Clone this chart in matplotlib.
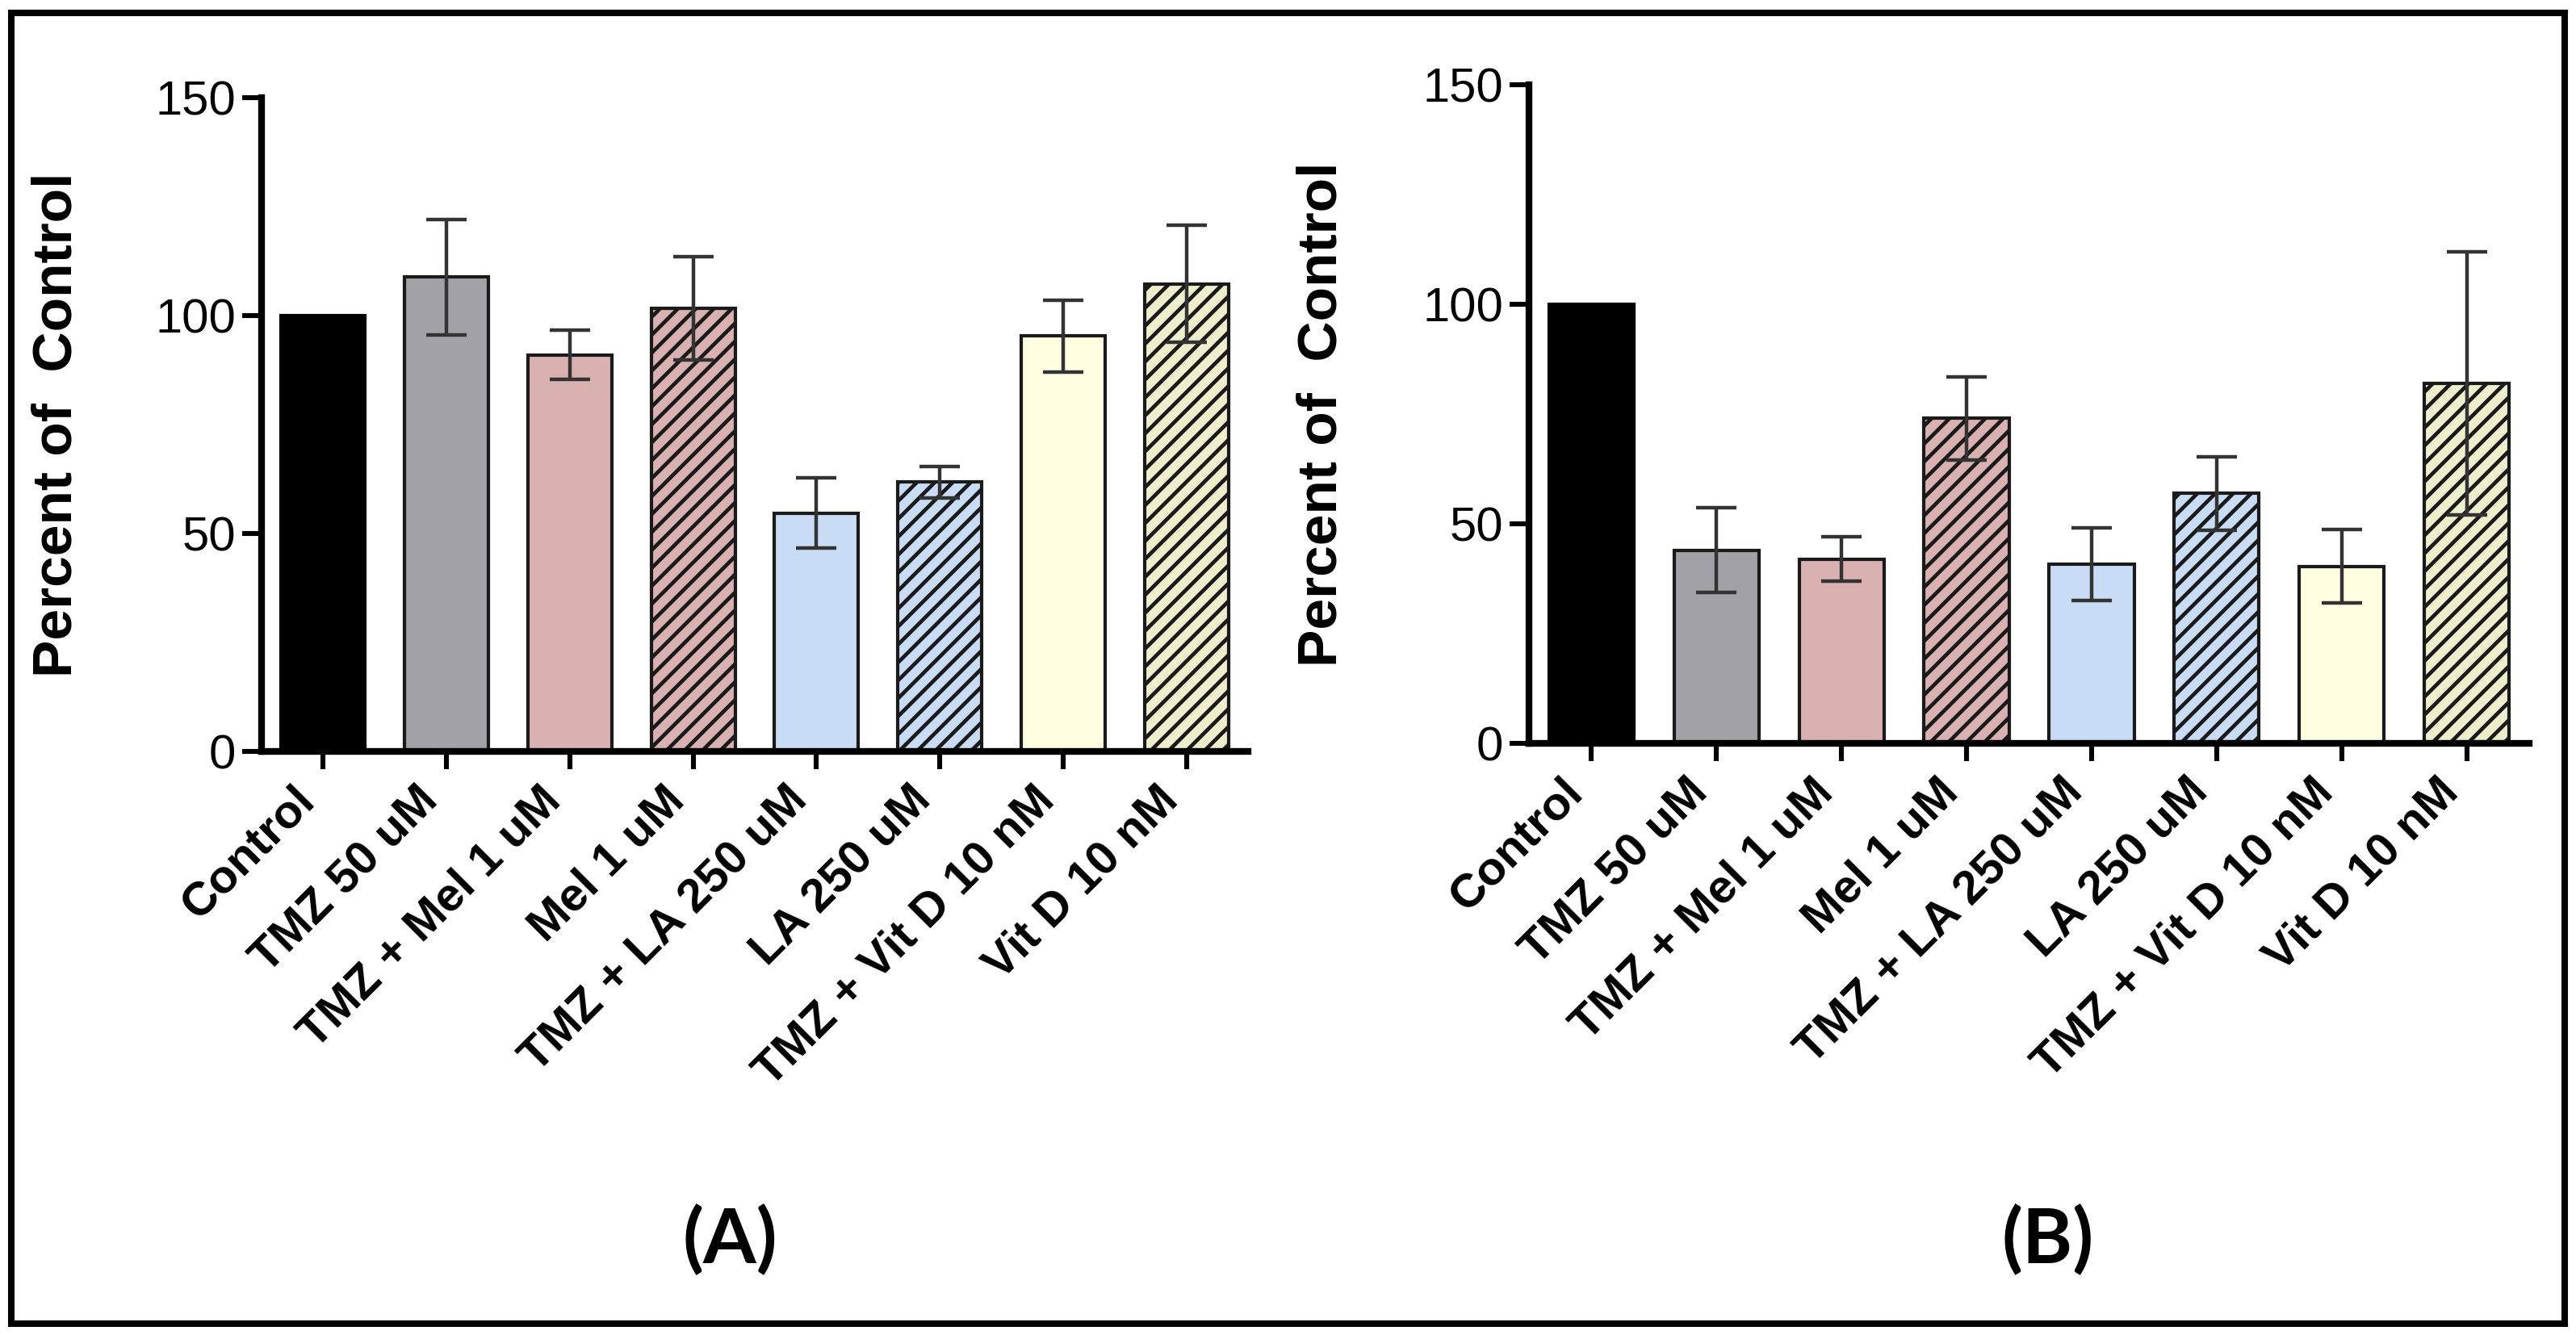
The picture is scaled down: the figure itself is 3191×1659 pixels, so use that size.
import matplotlib
matplotlib.use('Agg')
import matplotlib.pyplot as plt
from matplotlib.patches import Rectangle
import numpy as np

plt.rcParams['font.family'] = ['Liberation Sans', 'DejaVu Sans']
plt.rcParams['hatch.linewidth'] = 1.7

# treatments (same for both panels)
groups = ['Control', 'TMZ 50 uM', 'TMZ + Mel 1 uM', 'Mel 1 uM',
          'TMZ + LA 250 uM', 'LA 250 uM', 'TMZ + Vit D 10 nM', 'Vit D 10 nM']

# panel A: percent of control, mean and error
mean_a = [100, 108.8, 91.0, 101.7, 54.7, 61.8, 95.3, 107.3]
err_a = [0, 13.2, 5.6, 11.9, 8.0, 3.6, 8.2, 13.4]

# panel B
mean_b = [100, 44.0, 42.0, 74.0, 40.8, 56.9, 40.3, 82.0]
err_b = [0, 9.7, 5.0, 9.4, 8.2, 8.4, 8.4, 29.9]

face = ['#000000', '#a2a2a6', '#d9b1b1', '#d9b1b1',
        '#c8ddf5', '#c8ddf5', '#fdfde0', '#eeeecd']
hatch = [None, None, None, '///', None, '///', None, '///']

W, H = 3191, 1659
fig = plt.figure(figsize=(W / 200, H / 200), dpi=200)


def panel(rect, mean, err, tag, tag_x):
    ax = fig.add_axes(rect)
    x = np.arange(len(groups))
    for i in range(len(groups)):
        ax.bar(x[i], mean[i], width=0.68, color=face[i],
               edgecolor='#1a1a1a' if i else '#000000',
               linewidth=1.5, hatch=hatch[i], zorder=2)
    e = np.array(err)
    m = e > 0
    ax.errorbar(x[m], np.array(mean)[m], yerr=e[m], fmt='none',
                ecolor='#333333', elinewidth=1.6, capsize=9,
                capthick=1.6, zorder=3)
    ax.set_xlim(-0.5, 7.5)
    ax.set_ylim(0, 150)
    ax.set_yticks([0, 50, 100, 150])
    ax.set_xticks(x)
    ax.set_xticklabels(groups, rotation=45, ha='right',
                       fontsize=21, fontweight='bold')
    ax.tick_params(axis='y', labelsize=21.5, length=8.5, width=2.2, pad=3)
    ax.tick_params(axis='x', length=8, width=2.2, pad=4)
    for s in ['top', 'right']:
        ax.spines[s].set_visible(False)
    for s in ['left', 'bottom']:
        ax.spines[s].set_linewidth(3)
    ax.set_ylabel('Percent of  Control', fontsize=25, fontweight='bold')
    ax.yaxis.set_label_coords(-0.181, 0.5)
    fig.text(tag_x, 0.0735, tag, fontsize=34, fontweight='bold',
             family=['Lato', 'DejaVu Sans'], ha='center', va='center')
    return ax


panel([324 / W, 1 - 931 / H, (1546 - 324) / W, (931 - 121) / H],
      mean_a, err_a, '(A)', 0.2833)
panel([1894 / W, 1 - 921 / H, (3133 - 1894) / W, (921 - 105) / H],
      mean_b, err_b, '(B)', 0.795)

# outer frame
fig.patches.append(Rectangle((14 / W, 19 / H), (3177 - 14) / W, (1640 - 16) / H,
                             transform=fig.transFigure, fill=False,
                             edgecolor='black', linewidth=2.9))

fig.savefig('out.png', dpi=200, facecolor='white')
